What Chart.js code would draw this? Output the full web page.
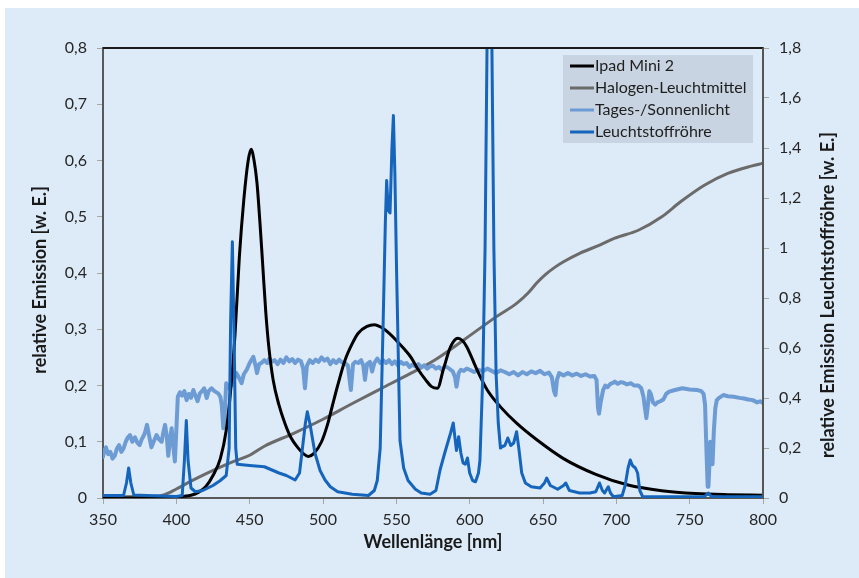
<!DOCTYPE html>
<html>
<head>
<meta charset="utf-8">
<title>Emissionsspektren</title>
<script src="https://cdn.jsdelivr.net/npm/chart.js@4.4.1/dist/chart.umd.min.js"></script>
<style>
  body { margin: 0; background: #ffffff; }
  #wrap { width: 859px; height: 578px; }
</style>
</head>
<body>
<div id="wrap"><canvas id="myChart" width="859" height="578"></canvas></div>
<script>
// x axis (wavelength) and tick settings
var xMin = 350, xMax = 800, xStep = 50;
var leftMax = 0.8, leftStep = 0.1;
var rightMax = 1.8, rightStep = 0.2;

var seriesNames = ["Ipad Mini 2", "Halogen-Leuchtmittel", "Tages-/Sonnenlicht", "Leuchtstoffröhre"];
var xTitle = "Wellenlänge [nm]";
var leftTitle = "relative Emission [w. E.]";
var rightTitle = "relative Emission Leuchtstoffröhre [w. E.]";

// Ipad Mini 2 (left axis)
var ipadNm  = [350, 380, 400, 410, 415, 420, 425, 430, 434, 437, 440, 443, 446, 449, 451, 453, 455, 457, 459, 461, 463, 466, 470, 474, 478, 483, 487, 490, 494, 499, 503, 506, 510, 515, 520, 524, 530, 535, 540, 545, 550, 556, 560, 565, 570, 574, 578, 582, 587, 592, 595, 598, 605, 612, 621, 632, 646, 664, 686, 708, 731, 754, 776, 800];
var ipadVal = [0, 0, 0.002, 0.005, 0.01, 0.02, 0.04, 0.07, 0.12, 0.19, 0.29, 0.43, 0.53, 0.6, 0.62, 0.6, 0.56, 0.49, 0.41, 0.33, 0.27, 0.21, 0.165, 0.133, 0.108, 0.089, 0.078, 0.074, 0.08, 0.1, 0.13, 0.16, 0.2, 0.245, 0.275, 0.293, 0.305, 0.308, 0.303, 0.293, 0.28, 0.263, 0.25, 0.228, 0.21, 0.198, 0.195, 0.228, 0.269, 0.284, 0.28, 0.269, 0.228, 0.192, 0.162, 0.133, 0.103, 0.07, 0.042, 0.023, 0.013, 0.008, 0.006, 0.005];

// Halogen-Leuchtmittel (left axis)
var halogenNm  = [350, 385, 392, 400, 410, 420, 430, 440, 450, 460, 480, 500, 520, 540, 560, 576, 596, 618, 632, 640, 646, 652, 658, 664, 675, 689, 699, 715, 731, 744, 760, 776, 792, 800];
var halogenVal = [0.002, 0.003, 0.006, 0.016, 0.03, 0.043, 0.055, 0.066, 0.076, 0.092, 0.115, 0.14, 0.168, 0.195, 0.222, 0.245, 0.281, 0.322, 0.346, 0.365, 0.383, 0.398, 0.41, 0.42, 0.435, 0.45, 0.462, 0.476, 0.5, 0.527, 0.556, 0.577, 0.59, 0.595];

// Tages-/Sonnenlicht (left axis)
var sunNm  = [350, 351, 352, 353.5, 355, 356.5, 358, 359.5, 361, 362.5, 364, 365.5, 367, 368.4, 370, 371.8, 373.5, 375, 376.5, 378, 379, 380, 381.5, 383, 384.5, 386.5, 388, 390, 391, 392.3, 393.5, 394.5, 395.5, 396.8, 398, 399, 400, 401, 402.5, 404, 405.5, 407, 408.5, 410, 411.6, 413, 414.5, 416, 417.5, 419, 420.7, 422, 424, 426, 428.5, 430, 431, 432, 433, 434, 436, 437.6, 439, 441, 442.5, 444.5, 446, 448, 450, 452.5, 454, 455, 456.5, 458, 460, 462, 463.5, 465, 467, 469, 471, 473, 475, 477, 479, 481, 483, 485, 486.5, 487.7, 489, 491, 493, 495, 497, 499, 501, 503, 505, 507, 509, 511, 513, 515, 517, 519, 520.5, 522, 524, 526, 527.5, 528.6, 530, 532, 533.5, 535, 537, 539, 541, 543, 545, 547, 549, 551, 553, 555, 557, 559, 561, 563, 565, 567, 569, 571, 573, 575, 577, 579, 581, 583, 585, 587, 588.5, 590, 591, 592.5, 594, 596, 598, 600, 603, 606, 609, 612, 615, 618, 621, 624, 627, 630, 633, 636, 639, 642, 645, 648, 651, 654, 656, 657.5, 658.5, 659.5, 661, 664, 667, 670, 673, 676, 679, 682, 685, 686.5, 687.5, 688.2, 689.3, 691, 692.5, 694, 696, 698, 699, 701, 703, 705, 707, 710, 712, 715, 717, 718.5, 719.5, 720.5, 721.5, 722.5, 723.5, 725, 726.5, 728, 730, 732, 734, 736, 740, 745, 750, 755, 758, 759.5, 760.5, 761.5, 762.3, 762.8, 763.5, 764, 764.8, 765.6, 766.5, 767.5, 768.5, 770, 773, 776, 780, 784, 787, 790, 793, 796, 798, 800];
var sunVal = [0.073, 0.085, 0.09, 0.078, 0.082, 0.07, 0.075, 0.088, 0.094, 0.082, 0.088, 0.1, 0.108, 0.112, 0.1, 0.108, 0.098, 0.094, 0.105, 0.112, 0.12, 0.13, 0.11, 0.09, 0.1, 0.112, 0.105, 0.1, 0.115, 0.13, 0.11, 0.075, 0.1, 0.124, 0.09, 0.065, 0.12, 0.18, 0.188, 0.182, 0.19, 0.174, 0.185, 0.178, 0.192, 0.182, 0.172, 0.186, 0.19, 0.195, 0.178, 0.19, 0.195, 0.19, 0.186, 0.18, 0.165, 0.124, 0.15, 0.204, 0.195, 0.2, 0.21, 0.222, 0.215, 0.204, 0.22, 0.228, 0.24, 0.251, 0.235, 0.222, 0.238, 0.24, 0.245, 0.24, 0.248, 0.242, 0.245, 0.238, 0.246, 0.24, 0.25, 0.243, 0.247, 0.24, 0.246, 0.243, 0.23, 0.195, 0.235, 0.245, 0.24, 0.246, 0.242, 0.25, 0.244, 0.248, 0.238, 0.245, 0.24, 0.246, 0.241, 0.24, 0.235, 0.192, 0.238, 0.242, 0.24, 0.245, 0.235, 0.21, 0.238, 0.242, 0.225, 0.24, 0.248, 0.24, 0.245, 0.24, 0.245, 0.238, 0.243, 0.236, 0.242, 0.238, 0.24, 0.233, 0.237, 0.234, 0.238, 0.232, 0.236, 0.23, 0.234, 0.235, 0.23, 0.233, 0.228, 0.234, 0.232, 0.228, 0.225, 0.215, 0.198, 0.222, 0.228, 0.226, 0.23, 0.228, 0.224, 0.228, 0.225, 0.23, 0.226, 0.222, 0.227, 0.224, 0.22, 0.224, 0.218, 0.224, 0.22, 0.225, 0.222, 0.226, 0.22, 0.223, 0.215, 0.19, 0.183, 0.21, 0.222, 0.218, 0.222, 0.218, 0.221, 0.217, 0.22, 0.216, 0.217, 0.21, 0.16, 0.15, 0.17, 0.192, 0.2, 0.197, 0.203, 0.205, 0.207, 0.203, 0.206, 0.205, 0.202, 0.204, 0.2, 0.2, 0.195, 0.18, 0.16, 0.142, 0.165, 0.19, 0.185, 0.17, 0.166, 0.17, 0.172, 0.175, 0.185, 0.189, 0.192, 0.195, 0.193, 0.192, 0.19, 0.185, 0.166, 0.08, 0.02, 0.02, 0.06, 0.1, 0.08, 0.06, 0.12, 0.16, 0.174, 0.178, 0.183, 0.181, 0.18, 0.178, 0.177, 0.175, 0.174, 0.17, 0.172, 0.169];

// Leuchtstoffroehre (right axis)
var tubeNm  = [350, 364, 366, 367.5, 369, 371, 380, 390, 400, 404, 405.5, 406.8, 408, 410, 413, 418, 425, 430, 434, 436, 437, 438.2, 439.5, 440.5, 441.5, 450, 460, 470, 475, 481, 484, 486, 488, 489.3, 491, 494.5, 498, 501.4, 505, 510, 520, 531, 535, 537, 539, 541, 542.5, 543.4, 544.5, 545.7, 547, 548, 549, 550.2, 552.5, 555, 558, 563, 567, 573, 577, 579.8, 583, 585, 587, 588.8, 590, 591, 592.5, 594, 595.5, 597, 598.5, 600, 602, 604, 606, 607, 609, 610.5, 612, 613.5, 615, 616.5, 618, 619.5, 621, 622, 624, 626, 628, 630, 632, 633.5, 635.5, 638, 642, 648, 651, 652.5, 655, 660, 664, 665.5, 668, 675, 682, 686, 688.5, 690.5, 692, 694.5, 696, 698, 704, 706, 708, 709.5, 711, 713, 714.5, 716, 718, 760, 762.7, 765, 800];
var tubeVal = [0.01, 0.01, 0.06, 0.12, 0.06, 0.012, 0.01, 0.008, 0.006, 0.01, 0.15, 0.31, 0.15, 0.04, 0.025, 0.03, 0.05, 0.07, 0.09, 0.2, 0.7, 1.025, 0.6, 0.2, 0.135, 0.13, 0.125, 0.1, 0.09, 0.072, 0.1, 0.2, 0.3, 0.345, 0.3, 0.18, 0.11, 0.072, 0.045, 0.025, 0.015, 0.01, 0.03, 0.07, 0.2, 0.7, 1.1, 1.27, 1.15, 1.14, 1.4, 1.53, 1.3, 0.9, 0.23, 0.12, 0.07, 0.035, 0.02, 0.015, 0.03, 0.112, 0.18, 0.22, 0.26, 0.3, 0.24, 0.19, 0.245, 0.18, 0.14, 0.135, 0.16, 0.1, 0.07, 0.065, 0.1, 0.15, 0.5, 1.0, 1.9, 2.2, 1.9, 1.0, 0.5, 0.3, 0.2, 0.205, 0.21, 0.24, 0.21, 0.22, 0.265, 0.2, 0.1, 0.06, 0.045, 0.04, 0.06, 0.08, 0.05, 0.035, 0.05, 0.06, 0.03, 0.02, 0.02, 0.025, 0.06, 0.03, 0.02, 0.045, 0.02, 0.005, 0.01, 0.05, 0.12, 0.152, 0.13, 0.12, 0.1, 0.03, 0.005, 0.005, 0.02, 0.005, 0.005];

var colors = ["#000000", "#6b6b6b", "#6d9bd4", "#1565bd"];
var widths = [3, 3, 4, 3];

function toPoints(nm, val) {
  var pts = [];
  for (var i = 0; i < nm.length; i++) {
    pts.push({x: nm[i], y: val[i]});
  }
  return pts;
}

function commaLabel(v) {
  var r = Math.round(v * 10) / 10;
  return String(r).replace(".", ",");
}

var fontName = "Lato, 'Open Sans', sans-serif";

// light blue panel with white strip on top and left
var bgPlugin = {
  id: "bg",
  beforeDraw: function(chart) {
    var c = chart.ctx;
    c.save();
    c.fillStyle = "#ffffff";
    c.fillRect(0, 0, chart.width, chart.height);
    c.fillStyle = "#ddeaf7";
    c.fillRect(5, 8, chart.width - 5, chart.height - 8);
    c.restore();
  }
};

// frame on top/right, axis titles, legend box
var framePlugin = {
  id: "frame",
  afterDatasetsDraw: function(chart) {
    var c = chart.ctx, a = chart.chartArea;
    c.save();
    c.strokeStyle = "#1a1a1a";
    c.lineWidth = 2;
    c.beginPath();
    c.moveTo(a.left, a.top);
    c.lineTo(a.right, a.top);
    c.stroke();
    c.strokeStyle = "#555555";
    c.beginPath();
    c.moveTo(a.right, a.top);
    c.lineTo(a.right, a.bottom);
    c.stroke();

    // axis titles
    c.fillStyle = "#1a1a1a";
    c.font = "bold 18px " + fontName;
    c.textAlign = "center";
    c.textBaseline = "middle";
    c.fillText(xTitle, (a.left + a.right) / 2, 542);
    c.save();
    c.translate(40, 280);
    c.rotate(-Math.PI / 2);
    c.fillText(leftTitle, 0, 0);
    c.restore();
    c.save();
    c.translate(828, 295);
    c.rotate(-Math.PI / 2);
    c.fillText(rightTitle, 0, 0);
    c.restore();

    // legend
    var lx = 563, ly = 55, lw = 190, lh = 88;
    c.fillStyle = "#c8d4e1";
    c.fillRect(lx, ly, lw, lh);
    c.font = "16px " + fontName;
    c.textBaseline = "middle";
    c.textAlign = "left";
    for (var i = 0; i < seriesNames.length; i++) {
      var y = ly + 11 + i * 22;
      c.strokeStyle = colors[i];
      c.lineWidth = 3;
      c.beginPath();
      c.moveTo(lx + 7, y);
      c.lineTo(lx + 31, y);
      c.stroke();
      c.fillStyle = "#1e1e1e";
      c.fillText(seriesNames[i], lx + 32, y);
    }
    c.restore();
  }
};

var ctx = document.getElementById("myChart").getContext("2d");
var myChart = new Chart(ctx, {
  type: "line",
  data: {
    datasets: [{
      label: seriesNames[0],
      data: toPoints(ipadNm, ipadVal),
      borderColor: colors[0],
      borderWidth: widths[0],
      cubicInterpolationMode: "monotone",
      yAxisID: "y",
      order: 1
    }, {
      label: seriesNames[1],
      data: toPoints(halogenNm, halogenVal),
      borderColor: colors[1],
      borderWidth: widths[1],
      cubicInterpolationMode: "monotone",
      yAxisID: "y",
      order: 3
    }, {
      label: seriesNames[2],
      data: toPoints(sunNm, sunVal),
      borderColor: colors[2],
      borderWidth: widths[2],
      tension: 0,
      yAxisID: "y",
      order: 2
    }, {
      label: seriesNames[3],
      data: toPoints(tubeNm, tubeVal),
      borderColor: colors[3],
      borderWidth: widths[3],
      tension: 0,
      yAxisID: "y1",
      order: 0
    }]
  },
  options: {
    responsive: false,
    animation: false,
    parsing: false,
    layout: { padding: { top: 48, left: 0, right: 0, bottom: 0 } },
    elements: {
      point: { radius: 0 },
      line: { borderJoinStyle: "round", borderCapStyle: "round", fill: false }
    },
    plugins: {
      legend: { display: false },
      tooltip: { enabled: false }
    },
    scales: {
      x: {
        type: "linear",
        min: xMin,
        max: xMax,
        afterFit: function(s) { s.height = 80; },
        ticks: {
          stepSize: xStep,
          color: "#262626",
          font: { family: fontName, size: 16 },
          padding: 6,
          maxRotation: 0
        },
        grid: { drawOnChartArea: false, tickLength: 6, color: "#a6a6a6" },
        border: { color: "#595959", width: 2 }
      },
      y: {
        position: "left",
        min: 0,
        max: leftMax,
        afterFit: function(s) { s.width = 103; },
        ticks: {
          stepSize: leftStep,
          color: "#262626",
          font: { family: fontName, size: 16 },
          padding: 10,
          callback: function(v) { return commaLabel(v); }
        },
        grid: { drawOnChartArea: false, tickLength: 6, color: "#a6a6a6" },
        border: { color: "#595959", width: 2 }
      },
      y1: {
        position: "right",
        min: 0,
        max: rightMax,
        afterFit: function(s) { s.width = 96; },
        ticks: {
          stepSize: rightStep,
          color: "#262626",
          font: { family: fontName, size: 16 },
          padding: 10,
          callback: function(v) { return commaLabel(v); }
        },
        grid: { drawOnChartArea: false, tickLength: 6, color: "#a6a6a6" },
        border: { color: "#595959", width: 2 }
      }
    }
  },
  plugins: [bgPlugin, framePlugin]
});
</script>
</body>
</html>
